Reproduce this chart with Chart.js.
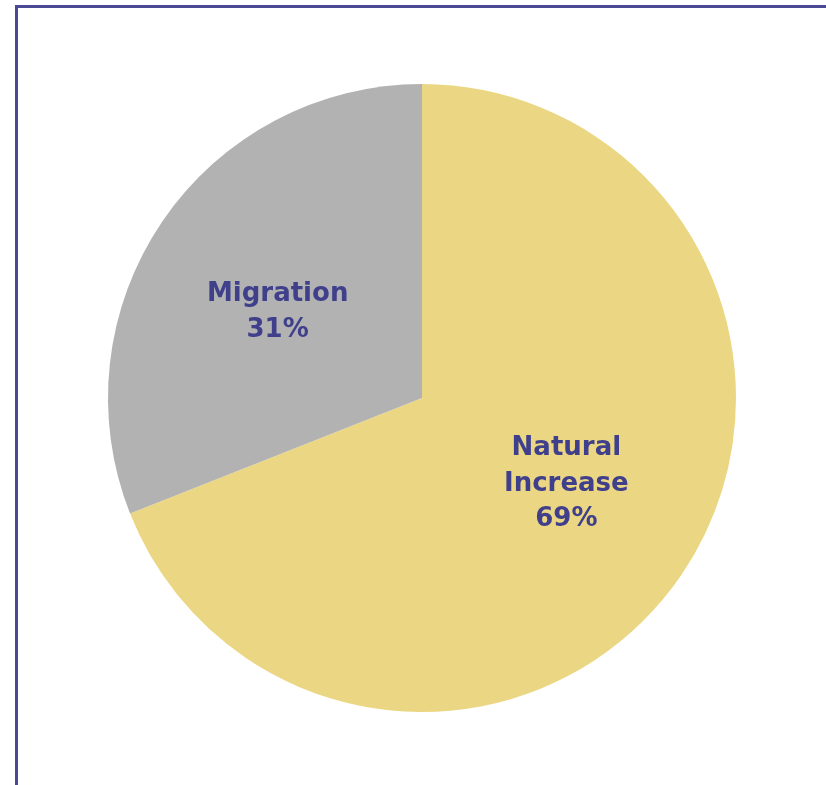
<!DOCTYPE html>
<html>
<head>
<meta charset="utf-8">
<script src="https://cdn.jsdelivr.net/npm/chart.js@4.4.0/dist/chart.umd.min.js"></script>
<style>
  html, body { margin: 0; padding: 0; background: #fff; width: 826px; height: 785px; overflow: hidden; }
  #frame {
    position: absolute; left: 15px; top: 5px; right: 0; bottom: 0;
    border-top: 3px solid #4a4a94; border-left: 3px solid #4a4a94;
  }
  #pie { position: absolute; left: 0; top: 0; }
</style>
</head>
<body>
<div id="frame"></div>
<canvas id="pie" width="826" height="785"></canvas>
<script>
// 資料
const categories = ['Natural Increase', 'Migration'];
const labelLines = [['Natural', 'Increase', '69%'], ['Migration', '31%']];
const shares = [69, 31];
const sliceColors = ['#ebd783', '#b2b2b2'];

// 在扇形內畫標籤
const sliceLabels = {
    id: 'sliceLabels',
    afterDatasetsDraw(chart) {
        const ctx = chart.ctx;
        const meta = chart.getDatasetMeta(0);
        ctx.save();
        ctx.font = 'bold 26px "DejaVu Sans", Verdana, sans-serif';
        ctx.fillStyle = '#3f3f8c';
        ctx.textAlign = 'center';
        ctx.textBaseline = 'middle';
        meta.data.forEach((arc, i) => {
            const p = arc.getProps(['x', 'y', 'startAngle', 'endAngle', 'outerRadius'], true);
            const mid = (p.startAngle + p.endAngle) / 2 - 0.06;
            const r = p.outerRadius * 0.535;
            const cx = p.x + Math.cos(mid) * r;
            const cy = p.y + Math.sin(mid) * r;
            const lines = labelLines[i];
            const lh = 35.5;
            lines.forEach((t, k) => {
                ctx.fillText(t, cx, cy + (k - (lines.length - 1) / 2) * lh);
            });
        });
        ctx.restore();
    }
};

new Chart(document.getElementById('pie').getContext('2d'), {
    type: 'pie',
    data: {
        labels: categories,
        datasets: [{
            data: shares,
            backgroundColor: sliceColors,
            borderWidth: 0
        }]
    },
    options: {
        responsive: false,
        animation: false,
        layout: { padding: { left: 108, right: 90, top: 84, bottom: 73 } },
        plugins: {
            legend: { display: false },
            tooltip: { enabled: false }
        }
    },
    plugins: [sliceLabels]
});
</script>
</body>
</html>
